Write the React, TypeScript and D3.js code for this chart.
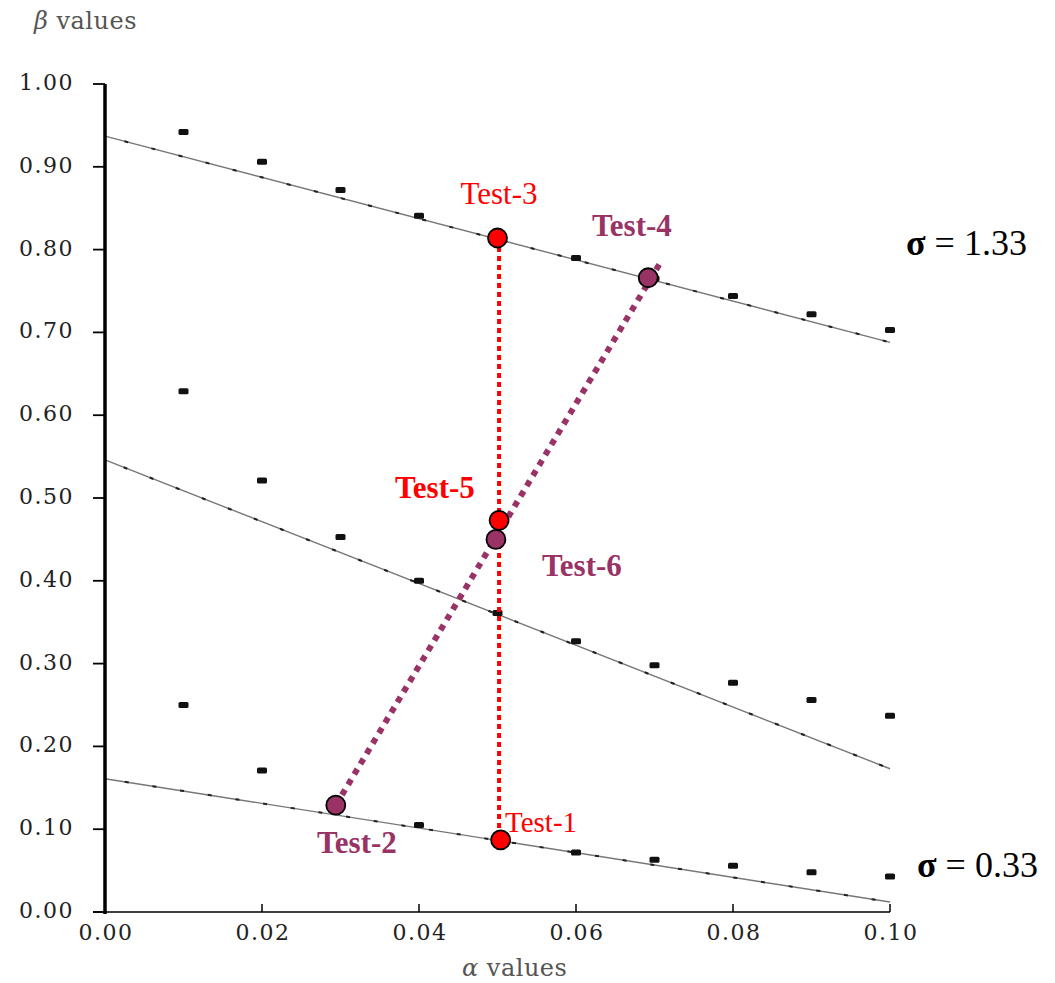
import React from "react";
import * as d3 from "d3";

// alpha values where the simulations were run
const alphas = [0.01, 0.02, 0.03, 0.04, 0.05, 0.06, 0.07, 0.08, 0.09, 0.1];

// beta values per sigma
const betaHigh = [0.942, 0.906, 0.872, 0.841, 0.812, 0.79, 0.765, 0.744, 0.722, 0.703];
const betaMid = [0.629, 0.521, 0.453, 0.4, 0.361, 0.327, 0.298, 0.277, 0.256, 0.237];
const betaLow = [0.25, 0.171, 0.13, 0.105, 0.086, 0.072, 0.063, 0.056, 0.048, 0.043];

// fitted straight lines, endpoints at alpha = 0 and alpha = 0.10
const fitHigh = [[0, 0.937], [0.1, 0.688]];
const fitMid = [[0, 0.546], [0.1, 0.173]];
const fitLow = [[0, 0.161], [0.1, 0.012]];

const xTicks = [0, 0.02, 0.04, 0.06, 0.08, 0.1];
const yTicks = [0, 0.1, 0.2, 0.3, 0.4, 0.5, 0.6, 0.7, 0.8, 0.9, 1.0];

// test points
const tests = [
  { name: "Test-1", a: 0.0504, b: 0.087, group: "red" },
  { name: "Test-2", a: 0.0294, b: 0.129, group: "purple" },
  { name: "Test-3", a: 0.05, b: 0.814, group: "red" },
  { name: "Test-4", a: 0.0692, b: 0.766, group: "purple" },
  { name: "Test-5", a: 0.0502, b: 0.473, group: "red" },
  { name: "Test-6", a: 0.0498, b: 0.45, group: "purple" },
];

const RED = "#ff0000";
const PURPLE = "#993366";

const W = 1055;
const H = 983;

const App = () => {
  const x = d3.scaleLinear().domain([0, 0.1]).range([105, 890]);
  const y = d3.scaleLinear().domain([0, 1]).range([912, 84]);

  const line = d3
    .line<number[]>()
    .x((d) => x(d[0]))
    .y((d) => y(d[1]));

  const byName = (n: string) => tests.find((t) => t.name === n)!;
  const t1 = byName("Test-1");
  const t2 = byName("Test-2");
  const t3 = byName("Test-3");
  const t4 = byName("Test-4");

  // red connector Test-3 -> Test-1 (vertical), purple Test-2 -> Test-4 (a bit past it)
  const redPath = line([
    [0.0502, t3.b],
    [0.0502, t1.b],
  ]);
  const purplePath = line([
    [t2.a, t2.b],
    [t4.a + 0.0014, t4.b + 0.016],
  ]);

  const fits = [fitHigh, fitMid, fitLow];
  const series = [betaHigh, betaMid, betaLow];

  const serif = "'Liberation Serif', 'Times New Roman', serif";
  const tickFont = "'DejaVu Serif', serif";

  return (
    <svg
      width={W}
      height={H}
      style={{ position: "absolute", left: 0, top: 0, background: "#fff" }}
    >
      {/* axis titles */}
      <text x={34} y={29} fontFamily={tickFont} fontSize={24} letterSpacing={0.5} fill="#555">
        <tspan fontStyle="italic">β</tspan> values
      </text>
      <text x={462} y={976} fontFamily={tickFont} fontSize={24} letterSpacing={0.5} fill="#555">
        <tspan fontStyle="italic">α</tspan> values
      </text>

      {/* fitted lines */}
      {fits.map((f, i) => (
        <g key={"fit" + i}>
          <path d={line(f) || ""} fill="none" stroke="#777" strokeWidth={1.4} />
          <path
            d={line(f) || ""}
            fill="none"
            stroke="#222"
            strokeWidth={2}
            strokeDasharray="4 24"
            strokeDashoffset={-20}
          />
        </g>
      ))}

      {/* data markers */}
      {series.map((s, i) =>
        s.map((v, j) => (
          <rect
            key={`m${i}-${j}`}
            x={x(alphas[j]) - 5}
            y={y(v) - 3}
            width={10}
            height={6}
            rx={1.5}
            fill="#111"
          />
        ))
      )}

      {/* axes */}
      <line x1={105} x2={105} y1={y(1)} y2={y(0) + 2} stroke="#000" strokeWidth={3.5} />
      <line x1={93} x2={x(0.1)} y1={y(0)} y2={y(0)} stroke="#000" strokeWidth={1.6} />
      {yTicks.map((t) => (
        <g key={"yt" + t}>
          <line x1={93} x2={105} y1={y(t)} y2={y(t)} stroke="#000" strokeWidth={1.8} />
          <text
            x={74}
            y={y(t) + 6}
            textAnchor="end"
            fontFamily={tickFont}
            fontSize={22}
            letterSpacing={1.5}
            fill="#222"
          >
            {t.toFixed(2)}
          </text>
        </g>
      ))}
      {xTicks.map((t) => (
        <g key={"xt" + t}>
          <line x1={x(t)} x2={x(t)} y1={y(0)} y2={y(0) - 8} stroke="#000" strokeWidth={1.5} />
          <text
            x={x(t) + 1}
            y={y(0) + 28}
            textAnchor="middle"
            fontFamily={tickFont}
            fontSize={22}
            letterSpacing={1.5}
            fill="#222"
          >
            {t.toFixed(2)}
          </text>
        </g>
      ))}

      {/* connectors */}
      <path d={redPath || ""} fill="none" stroke={RED} strokeWidth={4} strokeDasharray="5 4" />
      <path d={purplePath || ""} fill="none" stroke={PURPLE} strokeWidth={6} strokeDasharray="6 6" />

      {/* test points */}
      {tests.map((t) => (
        <circle
          key={t.name}
          cx={x(t.a)}
          cy={y(t.b)}
          r={9.5}
          fill={t.group === "red" ? RED : PURPLE}
          stroke="#000"
          strokeWidth={1.8}
        />
      ))}

      {/* labels */}
      <text x={499} y={204} textAnchor="middle" fontFamily={serif} fontSize={31} fill={RED}>
        Test-3
      </text>
      <text x={592} y={236} fontFamily={serif} fontSize={31} fontWeight="bold" fill={PURPLE}>
        Test-4
      </text>
      <text x={395} y={498} fontFamily={serif} fontSize={31} fontWeight="bold" fill={RED}>
        Test-5
      </text>
      <text x={542} y={576} fontFamily={serif} fontSize={31} fontWeight="bold" fill={PURPLE}>
        Test-6
      </text>
      <text x={317} y={853} fontFamily={serif} fontSize={31} fontWeight="bold" fill={PURPLE}>
        Test-2
      </text>
      <text x={505} y={832} fontFamily={serif} fontSize={29} fill={RED}>
        Test-1
      </text>

      <text x={906} y={255} fontFamily={serif} fontSize={36} fill="#000">
        <tspan fontWeight="bold">σ</tspan> = 1.33
      </text>
      <text x={917} y={877} fontFamily={serif} fontSize={36} fill="#000">
        <tspan fontWeight="bold">σ</tspan> = 0.33
      </text>
    </svg>
  );
};

export default App;
